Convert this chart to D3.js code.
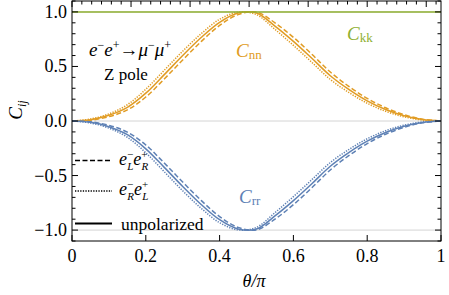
<!DOCTYPE html>
<html>
<head>
<meta charset="utf-8">
<script src="https://cdn.jsdelivr.net/npm/d3@7"></script>
<style>
  body { margin: 0; background: #fff; }
  text { font-family: "Liberation Serif", "DejaVu Serif", serif; }
</style>
</head>
<body>
<svg width="449" height="295"></svg>
<script>
// theta/pi sample points
var thetas = [0,0.05,0.1,0.15,0.2,0.25,0.3,0.35,0.4,0.45,0.5,0.55,0.6,0.65,0.7,0.75,0.8,0.85,0.9,0.95,1];
// C_nn
var cnnUnpol = [0,.012,.052,.125,.255,.425,.6,.765,.905,.99,.99,.87,.73,.575,.415,.29,.185,.105,.048,.013,0];
var cnnLR    = [0,.007,.04,.102,.22,.385,.56,.728,.876,.975,.998,.9,.767,.612,.449,.318,.207,.121,.058,.017,0];
var cnnRL    = [0,.018,.065,.149,.291,.465,.64,.8,.932,.998,.975,.84,.693,.538,.381,.262,.163,.089,.038,.009,0];
// C_rr
var crrUnpol = [0,-.012,-.052,-.125,-.255,-.425,-.6,-.765,-.905,-.99,-.99,-.87,-.73,-.575,-.415,-.29,-.185,-.105,-.048,-.013,0];
var crrLR    = [0,-.007,-.04,-.102,-.22,-.385,-.56,-.728,-.876,-.975,-.998,-.9,-.767,-.612,-.449,-.318,-.207,-.121,-.058,-.017,0];
var crrRL    = [0,-.018,-.065,-.149,-.291,-.465,-.64,-.8,-.932,-.998,-.975,-.84,-.693,-.538,-.381,-.262,-.163,-.089,-.038,-.009,0];
// C_kk
var ckk = [1,1,1,1,1,1,1,1,1,1,1,1,1,1,1,1,1,1,1,1,1];

var xTicks = [0,0.2,0.4,0.6,0.8,1];
var xTickLabels = ["0","0.2","0.4","0.6","0.8","1"];
var yTicks = [-1,-0.5,0,0.5,1];
var yTickLabels = ["\u22121.0","\u22120.5","0.0","0.5","1.0"];

var svg = d3.select("svg");
var pLeft = 72, pRight = 441, pTop = 1, pBottom = 241;

var x = d3.scaleLinear().domain([0,1]).range([pLeft,pRight]);
var y = d3.scaleLinear().domain([-1.1,1.1]).range([pBottom,pTop]);

var blue = "#5E81B5", orange = "#E19C24", green = "#8FB032";

// gray grid lines
svg.selectAll(".grid").data([0,-1,1]).enter().append("line")
	.attr("x1",pLeft).attr("x2",pRight)
	.attr("y1",function(d){return y(d);}).attr("y2",function(d){return y(d);})
	.attr("stroke","#d4d4d4").attr("stroke-width",1);

var line = d3.line().curve(d3.curveCatmullRom.alpha(0.5));
function pts(vals){ return thetas.map(function(t,i){ return [x(t),y(vals[i])]; }); }

var series = [
	{v:cnnLR,c:orange,dash:"5,2.5"},
	{v:cnnRL,c:orange,dash:"1.3,1.3"},
	{v:cnnUnpol,c:orange,dash:null},
	{v:crrLR,c:blue,dash:"5,2.5"},
	{v:crrRL,c:blue,dash:"1.3,1.3"},
	{v:crrUnpol,c:blue,dash:null},
	{v:ckk,c:green,dash:null}
];
svg.selectAll(".curve").data(series).enter().append("path")
	.attr("d",function(d){ return line(pts(d.v)); })
	.attr("fill","none")
	.attr("stroke",function(d){return d.c;})
	.attr("stroke-width",1.5)
	.attr("stroke-dasharray",function(d){return d.dash;});

// frame
svg.append("rect").attr("x",pLeft).attr("y",pTop).attr("width",pRight-pLeft).attr("height",pBottom-pTop)
	.attr("fill","none").attr("stroke","#000").attr("stroke-width",1);

// ticks
var g = svg.append("g").attr("stroke","#000").attr("stroke-width",1);
xTicks.forEach(function(t){
	g.append("line").attr("x1",x(t)).attr("x2",x(t)).attr("y1",pBottom).attr("y2",pBottom-6);
});
// top frame ticks
for (var k=0;k<=37;k++){
	var tv = k*0.16/6;
	if (tv>1) break;
	var big = (k%6==0);
	g.append("line").attr("x1",x(tv)).attr("x2",x(tv)).attr("y1",pTop).attr("y2",pTop+(big?6:3.5));
}
for (var j=-11;j<=11;j++){
	var v = j/10;
	var big2 = (j%5==0);
	var len = big2?6:3.5;
	g.append("line").attr("x1",pLeft).attr("x2",pLeft+len).attr("y1",y(v)).attr("y2",y(v));
	g.append("line").attr("x1",pRight).attr("x2",pRight-len).attr("y1",y(v)).attr("y2",y(v));
}

// tick labels
svg.selectAll(".xl").data(xTicks).enter().append("text")
	.attr("x",function(d){return x(d);}).attr("y",pBottom+21)
	.attr("text-anchor","middle").attr("font-size",18)
	.text(function(d,i){return xTickLabels[i];});
svg.selectAll(".yl").data(yTicks).enter().append("text")
	.attr("x",pLeft-5).attr("y",function(d){return y(d)+6;})
	.attr("text-anchor","end").attr("font-size",18)
	.text(function(d,i){return yTickLabels[i];});

// axis titles
svg.append("text").attr("x",254).attr("y",287).attr("text-anchor","middle")
	.attr("font-size",18).attr("font-style","italic").text("\u03b8/\u03c0");
var yl = svg.append("text").attr("transform","translate(22,110) rotate(-90)")
	.attr("text-anchor","middle").attr("font-size",19);
yl.append("tspan").attr("font-style","italic").text("C");
yl.append("tspan").attr("font-style","italic").attr("font-size",12).attr("dy",4).text("ij");

// process annotation
var p = svg.append("text").attr("x",89).attr("y",56).attr("font-size",19);
p.append("tspan").attr("font-style","italic").text("e");
p.append("tspan").attr("font-size",12).attr("dy",-7).text("\u2212");
p.append("tspan").attr("font-style","italic").attr("dy",7).text("e");
p.append("tspan").attr("font-size",12).attr("dy",-7).text("+");
p.append("tspan").attr("dy",7).text("\u2192");
p.append("tspan").attr("font-style","italic").text("\u03bc");
p.append("tspan").attr("font-size",12).attr("dy",-7).text("\u2212");
p.append("tspan").attr("font-style","italic").attr("dy",7).text("\u03bc");
p.append("tspan").attr("font-size",12).attr("dy",-7).text("+");
svg.append("text").attr("x",104).attr("y",80).attr("font-size",17).text("Z pole");

// curve labels
function clabel(xp,yp,sub,col){
	var t = svg.append("text").attr("x",xp).attr("y",yp).attr("font-size",19).attr("fill",col);
	t.append("tspan").attr("font-style","italic").text("C");
	t.append("tspan").attr("font-size",13).attr("dy",2).text(sub);
}
clabel(236,57,"nn",orange);
clabel(347,40,"kk",green);
clabel(239,203,"rr",blue);

// legend
var legend = [
	{dash:"5,2.5",y:160.5,sub1:"L",sub2:"R"},
	{dash:"1.3,1.3",y:191,sub1:"R",sub2:"L"},
	{dash:null,y:223.5}
];
legend.forEach(function(d){
	svg.append("line").attr("x1",75).attr("x2",112).attr("y1",d.y).attr("y2",d.y)
		.attr("stroke","#000").attr("stroke-width",d.dash?1.5:2.2)
		.attr("stroke-dasharray",d.dash);
	if (d.sub1){
		var t = svg.append("text").attr("x",119).attr("y",d.y+4).attr("font-size",18);
		t.append("tspan").attr("font-style","italic").text("e");
		t.append("tspan").attr("font-size",11).attr("dy",-7).text("\u2212");
		t.append("tspan").attr("font-size",11).attr("font-style","italic").attr("dx",-6).attr("dy",12).text(d.sub1);
		t.append("tspan").attr("font-style","italic").attr("dy",-5).text("e");
		t.append("tspan").attr("font-size",11).attr("dy",-7).text("+");
		t.append("tspan").attr("font-size",11).attr("font-style","italic").attr("dx",-6).attr("dy",12).text(d.sub2);
	} else {
		svg.append("text").attr("x",121).attr("y",d.y+6).attr("font-size",17.5).text("unpolarized");
	}
});
</script>
</body>
</html>
